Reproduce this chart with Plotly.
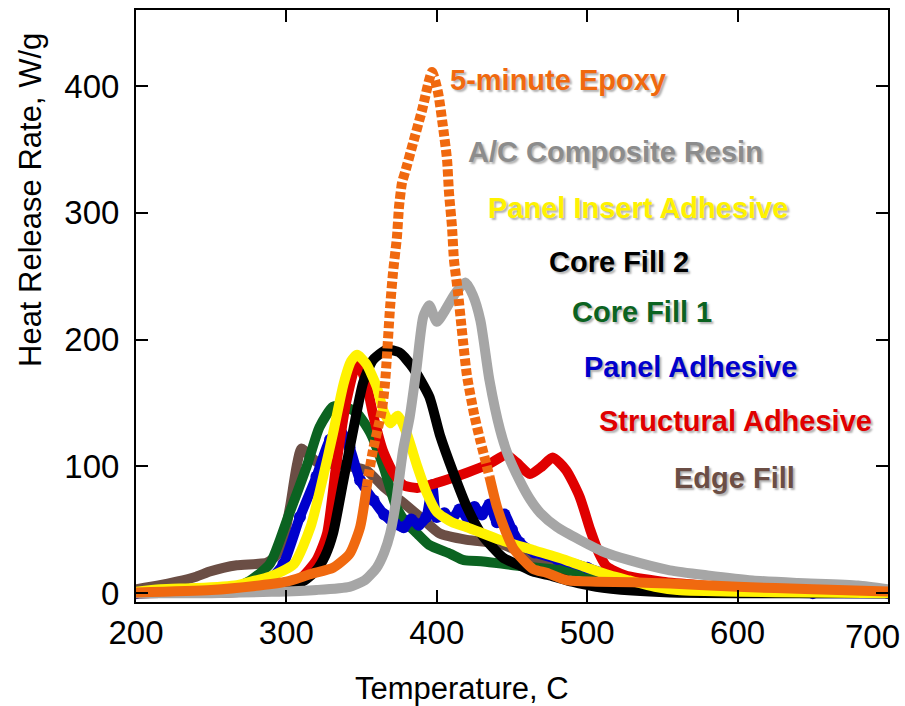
import plotly.graph_objects as go

# ---------------- data ----------------
epoxy_T = [200, 250, 282, 300, 316, 331, 342, 349, 353.4, 357.6, 363.4, 365.6, 368.9, 370.9, 373.5,
           374.9, 376.9, 378.9, 384.2, 390.2, 396.8, 400.8, 404.1, 406.8, 408.1, 410.1, 411.4, 414.1,
           416, 420, 425, 429, 435, 440, 446, 451, 464, 473, 487, 506, 530, 555, 600, 650, 700]
epoxy_H = [0.5, 2.4, 6, 9, 15, 20, 31, 52, 84, 113, 144, 166, 225, 253, 281,
           305, 324, 332, 355, 381, 411, 395, 368, 342, 316, 289, 263, 237,
           215, 172, 140, 120, 92, 68, 48, 35, 19, 16, 10, 9, 8.5, 7.5, 5, 3, 1.2]

resin_T = [200, 250, 290, 320, 342, 352, 360, 365, 369, 373, 377.6, 382, 386.6, 391, 395, 400, 405,
           412, 419, 424, 429, 435, 442, 447, 455, 462, 469, 480, 495, 510, 528, 555, 580, 610, 640,
           680, 700]
resin_H = [0, 0, 1, 2.5, 5, 10, 20, 32, 47, 73, 113, 139, 178, 218, 227, 214, 222,
           236, 245, 235, 215, 168, 129, 110, 89, 74, 63, 52, 42, 33, 26, 18, 14, 10, 8,
           6, 3]

insert_T = [200, 216, 240, 267, 276, 289, 305, 316, 324.5, 331, 338, 343, 347, 353, 360, 364.5, 369,
            374, 380, 387, 393, 400, 410, 420, 442, 464, 486, 500, 515, 528, 545, 560, 600, 650, 700]
insert_H = [1, 3, 4, 6.3, 9, 13, 23, 52, 92, 126, 165, 183, 188, 181, 163, 144, 134,
            140, 126, 100, 80, 64, 56, 52, 42, 34, 26, 20, 14, 10, 5, 2.4, 1, 0.5, 0]

core2_T = [200, 250, 290, 302, 312, 320, 326, 331, 337.6, 344, 351, 357.6, 366.7, 375, 384, 395,
           402, 411, 420, 430, 444, 455, 464, 475, 490, 506, 530, 555, 600, 700]
core2_H = [0, 0.5, 2, 5, 10, 18, 30, 47, 87, 126, 166, 184, 192, 190, 178, 155,
           125, 95, 68, 46, 28, 22, 17, 14, 9, 5, 2, 0.5, 0, 0]

core1_T = [200, 250, 265, 276, 289, 302, 313.5, 322, 331, 339, 347, 356, 364.5, 373, 380, 387, 395,
           409, 418, 431, 451, 475, 506, 530, 555, 580, 610, 640, 700]
core1_H = [0, 1, 4, 10, 23, 63, 100, 131, 147, 147, 142, 126, 100, 68, 55, 47, 38,
           31, 26, 25, 22, 19, 15.5, 11, 7.7, 5, 2, 0.5, 0]

panel_T = [200, 250, 275, 290, 298, 309, 320, 329, 336, 342, 349, 358, 365, 372, 378, 383, 388, 393,
           397, 400, 405, 410, 415, 420, 425, 430, 435, 440, 445, 450, 455, 465, 480, 500, 520, 550,
           600, 650, 700]
panel_H = [0, 1, 4, 12, 23, 60, 92, 121, 128, 115, 89, 73, 62, 55, 52, 58, 54, 60,
           85, 60, 63, 58, 66, 60, 68, 62, 70, 56, 62, 50, 40, 32, 27, 20, 12, 4,
           1, 0, 0]

struct_T = [200, 250, 290, 300, 310, 320, 327, 333, 340, 347, 353, 358, 364, 371, 378, 387, 400, 420,
            435, 446, 453, 462, 470, 477, 486, 495, 502, 508, 513, 525, 550, 600, 650, 700]
struct_H = [0, 0.5, 2, 5, 12, 26, 47, 100, 152, 182, 166, 139, 113, 95, 85, 83, 87, 95,
            102, 109, 103, 94, 100, 107, 97, 76, 50, 31, 21, 14, 9, 4, 2, 1]

edge_T = [200, 215, 227, 240, 249, 258, 267, 280, 287, 293.5, 298, 302.4, 306.8, 310, 315.7, 322,
          331, 342, 353, 364.5, 378, 391, 402, 420, 442, 458, 475, 495, 506, 530, 560, 600, 650, 700]
edge_H = [3, 6, 9, 13, 17, 20, 22, 23, 24, 30, 42, 68, 100, 114, 108, 102,
          102, 100, 97, 84, 71, 58, 47, 42, 39, 31, 21, 18, 13, 8, 4, 1.5, 0.5, 0]

x_ticks = [200, 300, 400, 500, 600, 700]
x_tick_labels = ["200", "300", "400", "500", "600", "700"]
y_ticks = [0, 100, 200, 300, 400]

labels = ["5-minute Epoxy", "A/C Composite Resin", "Panel Insert Adhesive", "Core Fill 2",
          "Core Fill 1", "Panel Adhesive", "Structural Adhesive", "Edge Fill"]
label_T = [407.5, 419.5, 432.5, 473.5, 488.5, 496.5, 506.5, 556.5]
label_H = [405, 348, 304, 261, 222, 178, 136, 91]

# ---------------- styles ----------------
C_ORANGE = "#F0690F"
C_GRAY = "#A6A6A6"
C_YELLOW = "#FFF200"
C_BLACK = "#000000"
C_GREEN = "#0B6321"
C_BLUE = "#0000CC"
C_RED = "#E00000"
C_BROWN = "#6B4E45"
label_colors = [C_ORANGE, "#8C8C8C", C_YELLOW, C_BLACK, C_GREEN, C_BLUE, C_RED, C_BROWN]

LW = 10
fig = go.Figure()


def add_line(T, H, color, width=LW, dash=None, mode="lines", msize=0):
    line = dict(color=color, width=width, shape="spline", smoothing=0.6)
    if dash:
        line["dash"] = dash
    kw = {}
    if msize:
        kw["marker"] = dict(color=color, size=msize)
    fig.add_trace(go.Scatter(x=T, y=H, mode=mode, line=line, showlegend=False,
                             hoverinfo="skip", **kw))


add_line(edge_T, edge_H, C_BROWN)
add_line(core1_T, core1_H, C_GREEN)
add_line(panel_T, panel_H, C_BLUE, mode="lines+markers", msize=12)
add_line(struct_T, struct_H, C_RED)
add_line(core2_T, core2_H, C_BLACK)
add_line(insert_T, insert_H, C_YELLOW)
add_line(resin_T, resin_H, C_GRAY)

# orange: solid on the flat parts, dotted on the steep branches (contiguous runs)
runs = []  # (steep?, [indices])
for i in range(len(epoxy_T) - 1):
    steep = max(epoxy_H[i], epoxy_H[i + 1]) > 100
    if runs and runs[-1][0] == steep:
        runs[-1][1].append(i + 1)
    else:
        runs.append((steep, [i, i + 1]))
for steep, idx in runs:
    add_line([epoxy_T[k] for k in idx], [epoxy_H[k] for k in idx], C_ORANGE,
             dash="7px,3px" if steep else None)

FONT = "Arial, Liberation Sans, sans-serif"
for txt, t, h, c in zip(labels, label_T, label_H, label_colors):
    fig.add_annotation(x=t, y=h, text=txt, showarrow=False, xanchor="left", yanchor="middle",
                       font=dict(family=FONT, size=29, color=c, weight="bold",
                                 shadow="2px 2px 2px rgba(0,0,0,0.3)"))

# page geometry (body margin removed by the post script below)
W, Hh = 905, 706
pl, pr, pt, pb = 136, 17, 10, 104
pw, ph = W - pl - pr, Hh - pt - pb


def to_paper(px, py):
    return (px - pl) / pw, 1 - (py - pt) / ph


tx, ty = to_paper(462, 688)
fig.add_annotation(x=tx, y=ty, xref="paper", yref="paper", text="Temperature, C",
                   xanchor="center", yanchor="middle", showarrow=False,
                   font=dict(family=FONT, size=31, color="black"))
tx, ty = to_paper(30, 200)
fig.add_annotation(x=tx, y=ty, xref="paper", yref="paper", text="Heat Release Rate, W/g",
                   textangle=-90, xanchor="center", yanchor="middle", showarrow=False,
                   font=dict(family=FONT, size=31, color="black"))

TICKFONT = dict(family=FONT, size=33, color="black")
axis_common = dict(showgrid=False, zeroline=False, showline=True, linecolor="black", linewidth=2,
                   mirror="ticks", ticks="inside", ticklen=12, tickwidth=2, tickcolor="black",
                   tickfont=TICKFONT)
# the last x label sits against the right page edge, so it is drawn as a right-anchored note
fig.update_xaxes(range=[200, 700], tickvals=x_ticks,
                 ticktext=x_tick_labels[:-1] + [""], **axis_common)
fig.update_yaxes(range=[-7, 460], tickvals=y_ticks, ticklabelstandoff=8, **axis_common)
_, ly = to_paper(0, 636)
fig.add_annotation(x=x_ticks[-1], xref="x", y=ly, yref="paper", text=x_tick_labels[-1],
                   xanchor="right", yanchor="middle", xshift=14, showarrow=False,
                   font=TICKFONT)

fig.update_layout(width=W, height=Hh, margin=dict(l=pl, r=pr, t=pt, b=pb, autoexpand=False),
                  plot_bgcolor="white", paper_bgcolor="white")

fig.write_html("out.html", config={"displayModeBar": False},
               post_script="document.body.style.margin='0';document.body.style.overflow='hidden';")
